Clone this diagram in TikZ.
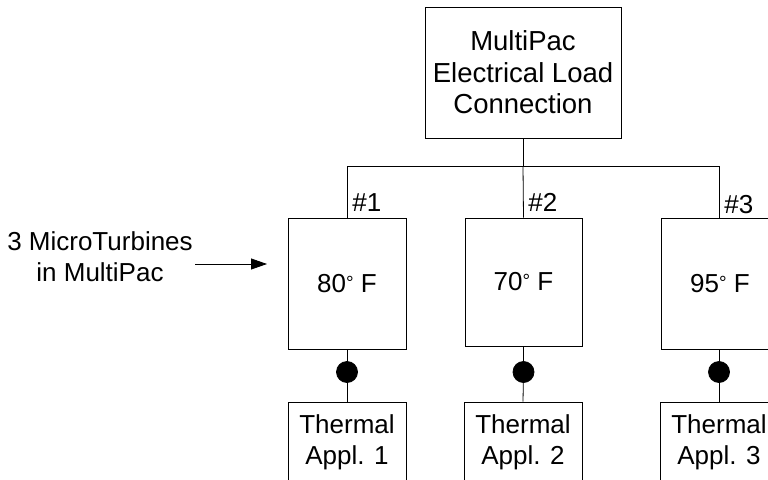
\documentclass[tikz,border=0pt]{standalone}
\usepackage{fontspec}
\setmainfont{Liberation Sans}
\usetikzlibrary{arrows.meta}
\newcommand{\degsym}{\raisebox{3pt}{\fontsize{19}{19}\selectfont°}}
\begin{document}
\begin{tikzpicture}[x=1pt,y=-1pt,line width=0.8pt,
  box/.style={draw,inner sep=0pt,align=center,font=\fontsize{26}{31}\selectfont},
  lbl/.style={inner sep=0pt,font=\fontsize{26}{31}\selectfont},
  dot/.style={circle,fill=black,draw=black,minimum size=21pt,inner sep=0pt}]
\useasboundingbox (0,0) rectangle (768,479);
\clip (0,0) rectangle (768,479);
\node[box,minimum width=196pt,minimum height=131pt,font=\fontsize{27.5}{31.5}\selectfont] (top) at (523,72.5) {MultiPac\\Electrical Load\\Connection};
\node[box,minimum width=118pt,minimum height=131pt] (t1) at (347,283.5) {80\degsym\ F};
\node[box,minimum width=117pt,minimum height=128pt] (t2) at (523.5,282) {70\degsym\ F};
\node[box,minimum width=118pt,minimum height=131pt] (t3) at (720,283.5) {95\degsym\ F};
\coordinate (bus) at (523,166);
\coordinate (b1) at (347,166);
\coordinate (b3) at (719,166);
\draw (top.south) -- (bus);
\draw (b1) -- (b3);
\draw (b1) -- (t1.north);
\draw (bus) -- (t2.north);
\draw (b3) -- (b3 |- t3.north);
\node[lbl,anchor=base west] (n1) at (352,211) {\#1};
\node[lbl,anchor=base west] (n2) at (528,211) {\#2};
\node[lbl,anchor=base west] (n3) at (724,213.5) {\#3};
\node[dot] (d1) at (347,372) {};
\node[dot] (d2) at (523.5,372) {};
\node[dot] (d3) at (719,372) {};
\node[box,minimum width=118pt,minimum height=80pt] (a1) at (347,442) {Thermal\\Appl. 1};
\node[box,minimum width=118pt,minimum height=80pt] (a2) at (523,442) {Thermal\\Appl. 2};
\node[box,minimum width=118pt,minimum height=80pt] (a3) at (719,442) {Thermal\\Appl. 3};
\draw (t1.south) -- (d1) -- (a1.north);
\draw (t2.south) -- (d2) -- (a2.north);
\draw (719,349) -- (d3) -- (a3.north);
\node[lbl,align=center] (mt) at (100,257) {3 MicroTurbines\\in MultiPac};
\coordinate (arrs) at (195,264);
\coordinate (arre) at (267,264);
\draw[-{Triangle[length=16pt,width=11pt]}] (arrs) -- (arre);
\end{tikzpicture}
\end{document}
